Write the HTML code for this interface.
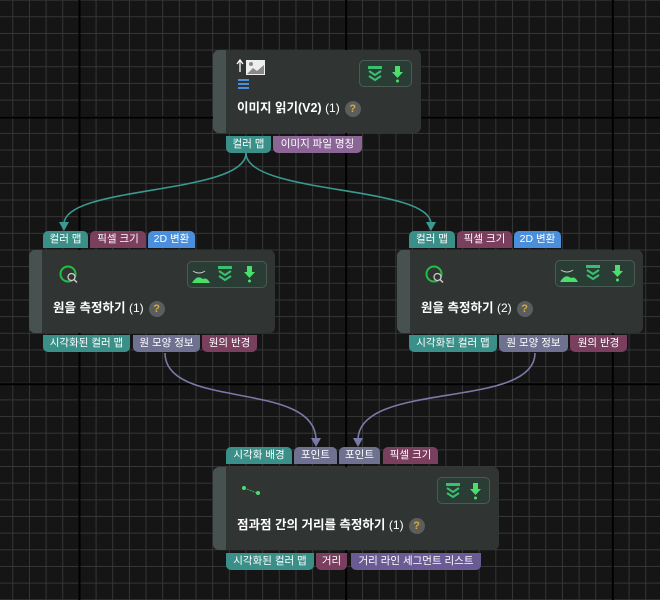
<!DOCTYPE html>
<html><head><meta charset="utf-8"><style>
*{margin:0;padding:0;box-sizing:border-box}
body{width:660px;height:600px;overflow:hidden;background:#151515;position:relative;font-family:"Liberation Sans","Noto Sans CJK KR",sans-serif}
.grid{position:absolute;inset:0;background-image:
linear-gradient(to right,#000 0 2px,transparent 2px),linear-gradient(to bottom,#000 0 2px,transparent 2px),
linear-gradient(to right,#363636 0 1px,transparent 1px),linear-gradient(to bottom,#363636 0 1px,transparent 1px);
background-size:266.67px 266.67px,266.67px 266.67px,16.667px 16.667px,16.667px 16.667px;
background-position:78.5px 0,0 116.5px,12.3px 0,0 16.3px}
.node{position:absolute;background:#303534;border-radius:6px;overflow:hidden}
.node .strip{position:absolute;left:0;top:0;bottom:0;width:13px;background:#465150}
.title{position:absolute;color:#fff;font-weight:bold;font-size:12.5px;white-space:nowrap}
.title .n{font-weight:normal;font-size:12px}
.q{display:inline-block;width:16px;height:16px;border-radius:50%;background:#5b5e5d;color:#d9a93a;font-size:11px;text-align:center;line-height:16px;margin-left:5px;vertical-align:middle;font-weight:bold}
.ib{position:absolute;border:1px solid #4a5a55;background:#2a3d35;border-radius:5px}
.tag{position:absolute;height:17px;font-size:10.5px;color:#fff;text-align:center;line-height:17px;white-space:nowrap}
.top{border-radius:5px 5px 0 0}.bot{border-radius:0 0 5px 5px}
.t{background:#3a8f88}.m{background:#7a3f5e}.b{background:#4a8edc}.p{background:#6f7190}.v{background:#8a6595}.l{background:#6a5b94}
svg{position:absolute;left:0;top:0}
</style></head><body>
<div class="grid"></div>
<svg width="660" height="600">
<g fill="none" stroke-width="1.6">
<path d="M246 153 C246 195 64 185 64 224" stroke="#3a9a92"/>
<path d="M246 153 C246 195 431 185 431 224" stroke="#3a9a92"/>
<path d="M165 353 C165 410 316 380 316 440" stroke="#7a7aa8"/>
<path d="M535 353 C535 410 358 380 358 440" stroke="#7a7aa8"/>
</g>
<path d="M59 222 L69 222 L64 231Z M426 222 L436 222 L431 231Z" fill="#3a9a92"/>
<path d="M311 438 L321 438 L316 447Z M353 438 L363 438 L358 447Z" fill="#7a7aa8"/>
</svg>

<!-- node 1 -->
<div class="node" style="left:213px;top:50px;width:208px;height:83px"><div class="strip"></div>
<div class="title" style="left:24px;top:47px">이미지 읽기(V2) <span class="n">(1)</span><span class="q">?</span></div>
<svg width="40" height="40" style="left:22px;top:8px"><path d="M5 14 V3 M2 6 L5 2 L8 6" stroke="#fff" stroke-width="1.3" fill="none"/><rect x="11" y="2" width="19" height="15" fill="#eee"/><path d="M12 16 L18 10 L22 13 L29 7 L29 16Z" fill="#888"/><circle cx="16" cy="6" r="2" fill="#888"/><rect x="3" y="21" width="11" height="2" fill="#4a8edc"/><rect x="3" y="25" width="11" height="2" fill="#4a8edc"/><rect x="3" y="29" width="11" height="2" fill="#4a8edc"/></svg>
<div class="ib" style="left:146px;top:10px;width:53px;height:27px"></div>
<svg width="60" height="30" style="left:146px;top:10px"><rect x="9" y="6" width="14" height="3" fill="#38c070"/><path d="M10 11 L16 15 L22 11 M10 16 L16 20 L22 16" stroke="#38c070" stroke-width="2" fill="none"/><path d="M36 6 h5 v6 h3 l-5.5 6 l-5.5 -6 h3z" fill="#4ade6a"/><circle cx="38.5" cy="21" r="1.5" fill="#4ade6a"/></svg>
</div>
<div class="tag t bot" style="left:226px;top:136px;width:45px">컬러 맵</div>
<div class="tag v bot" style="left:273px;top:136px;width:89px">이미지 파일 명칭</div>

<!-- node 2 -->
<div class="tag t top" style="left:43px;top:231px;width:45px">컬러 맵</div>
<div class="tag m top" style="left:90px;top:231px;width:56px">픽셀 크기</div>
<div class="tag b top" style="left:148px;top:231px;width:47px">2D 변환</div>
<div class="node" style="left:29px;top:250px;width:246px;height:83px"><div class="strip"></div>
<div class="title" style="left:24px;top:47px">원을 측정하기 <span class="n">(1)</span><span class="q">?</span></div>
<svg width="30" height="30" style="left:28px;top:12px"><circle cx="11" cy="12" r="7.5" stroke="#22c040" stroke-width="2" fill="none"/><circle cx="14.5" cy="15" r="3.5" stroke="#ccc" stroke-width="1.3" fill="#303534"/><path d="M17 17.5 L20 20.5" stroke="#ccc" stroke-width="1.5"/></svg>
<div class="ib" style="left:158px;top:11px;width:80px;height:27px"></div>
<svg width="80" height="30" style="left:158px;top:11px"><path d="M6 10 Q12 14 18 10" stroke="#ccc" fill="none"/><path d="M5 22 Q10 13 16 18 Q20 16 23 22Z" fill="#4ade6a"/><rect x="31" y="5" width="14" height="3" fill="#38c070"/><path d="M32 10 L38 14 L44 10 M32 15 L38 19 L44 15" stroke="#38c070" stroke-width="2" fill="none"/><path d="M60 5 h5 v6 h3 l-5.5 6 l-5.5 -6 h3z" fill="#4ade6a"/><circle cx="62.5" cy="20" r="1.5" fill="#4ade6a"/></svg>
</div>
<div class="tag t bot" style="left:43px;top:335px;width:87px">시각화된 컬러 맵</div>
<div class="tag p bot" style="left:133px;top:335px;width:67px">원 모양 정보</div>
<div class="tag m bot" style="left:202px;top:335px;width:55px">원의 반경</div>

<!-- node 3 -->
<div class="tag t top" style="left:409px;top:231px;width:46px">컬러 맵</div>
<div class="tag m top" style="left:457px;top:231px;width:55px">픽셀 크기</div>
<div class="tag b top" style="left:514px;top:231px;width:47px">2D 변환</div>
<div class="node" style="left:397px;top:250px;width:246px;height:83px"><div class="strip"></div>
<div class="title" style="left:24px;top:47px">원을 측정하기 <span class="n">(2)</span><span class="q">?</span></div>
<svg width="30" height="30" style="left:26px;top:12px"><circle cx="11" cy="12" r="7.5" stroke="#22c040" stroke-width="2" fill="none"/><circle cx="14.5" cy="15" r="3.5" stroke="#ccc" stroke-width="1.3" fill="#303534"/><path d="M17 17.5 L20 20.5" stroke="#ccc" stroke-width="1.5"/></svg>
<div class="ib" style="left:158px;top:10px;width:80px;height:27px"></div>
<svg width="80" height="30" style="left:158px;top:10px"><path d="M6 10 Q12 14 18 10" stroke="#ccc" fill="none"/><path d="M5 22 Q10 13 16 18 Q20 16 23 22Z" fill="#4ade6a"/><rect x="31" y="5" width="14" height="3" fill="#38c070"/><path d="M32 10 L38 14 L44 10 M32 15 L38 19 L44 15" stroke="#38c070" stroke-width="2" fill="none"/><path d="M60 5 h5 v6 h3 l-5.5 6 l-5.5 -6 h3z" fill="#4ade6a"/><circle cx="62.5" cy="20" r="1.5" fill="#4ade6a"/></svg>
</div>
<div class="tag t bot" style="left:409px;top:335px;width:88px">시각화된 컬러 맵</div>
<div class="tag p bot" style="left:499px;top:335px;width:69px">원 모양 정보</div>
<div class="tag m bot" style="left:570px;top:335px;width:57px">원의 반경</div>

<!-- node 4 -->
<div class="tag t top" style="left:226px;top:447px;width:66px">시각화 배경</div>
<div class="tag p top" style="left:294px;top:447px;width:43px">포인트</div>
<div class="tag p top" style="left:339px;top:447px;width:41px">포인트</div>
<div class="tag m top" style="left:383px;top:447px;width:55px">픽셀 크기</div>
<div class="node" style="left:213px;top:467px;width:286px;height:83px"><div class="strip"></div>
<div class="title" style="left:24px;top:47px">점과점 간의 거리를 측정하기 <span class="n">(1)</span><span class="q">?</span></div>
<svg width="40" height="20" style="left:26px;top:16px"><path d="M5 5 L18 10" stroke="#22c040" stroke-dasharray="2 1"/><circle cx="5" cy="5" r="2" fill="#4ade6a"/><circle cx="19" cy="10" r="2" fill="#4ade6a"/></svg>
<div class="ib" style="left:224px;top:10px;width:53px;height:27px"></div>
<svg width="60" height="30" style="left:224px;top:10px"><rect x="9" y="6" width="14" height="3" fill="#38c070"/><path d="M10 11 L16 15 L22 11 M10 16 L16 20 L22 16" stroke="#38c070" stroke-width="2" fill="none"/><path d="M36 6 h5 v6 h3 l-5.5 6 l-5.5 -6 h3z" fill="#4ade6a"/><circle cx="38.5" cy="21" r="1.5" fill="#4ade6a"/></svg>
</div>
<div class="tag t bot" style="left:226px;top:553px;width:88px">시각화된 컬러 맵</div>
<div class="tag m bot" style="left:316px;top:553px;width:31px">거리</div>
<div class="tag l bot" style="left:351px;top:553px;width:130px">거리 라인 세그먼트 리스트</div>
</body></html>
